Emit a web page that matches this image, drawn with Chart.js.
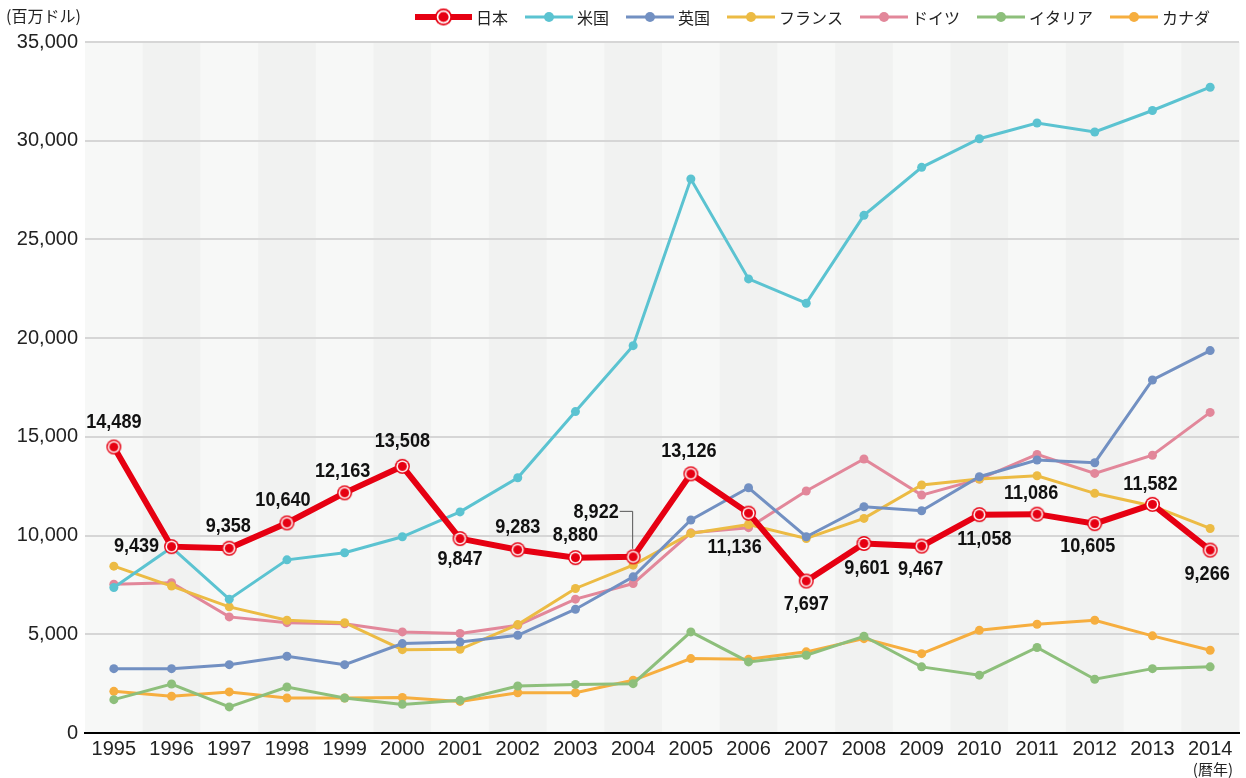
<!DOCTYPE html>
<html lang="ja">
<head>
<meta charset="utf-8">
<title>chart</title>
<script src="https://cdn.jsdelivr.net/npm/chart.js@4.4.1/dist/chart.umd.min.js"></script>
<style>
  html, body { margin: 0; padding: 0; background: #fff; }
  #wrap { width: 1246px; height: 778px; }
</style>
</head>
<body>
<div id="wrap"><canvas id="myChart" width="1246" height="778"></canvas></div>
<script>
// data (百万ドル)
const years = ['1995', '1996', '1997', '1998', '1999', '2000', '2001', '2002', '2003', '2004',
    '2005', '2006', '2007', '2008', '2009', '2010', '2011', '2012', '2013', '2014'];
const japan = [14489, 9439, 9358, 10640, 12163, 13508, 9847, 9283, 8880, 8922,
    13126, 11136, 7697, 9601, 9467, 11058, 11086, 10605, 11582, 9266];
const usa = [7370, 9400, 6780, 8770, 9130, 9940, 11200, 12930, 16280, 19620,
    28060, 23000, 21770, 26220, 28650, 30100, 30900, 30440, 31530, 32710];
const uk = [3260, 3260, 3460, 3890, 3460, 4530, 4610, 4950, 6270, 7910,
    10790, 12420, 9940, 11460, 11260, 12980, 13830, 13690, 17880, 19370];
const france = [8450, 7440, 6390, 5710, 5590, 4220, 4240, 5490, 7320, 8500,
    10110, 10560, 9850, 10870, 12560, 12860, 13030, 12140, 11500, 10360];
const germany = [7540, 7610, 5880, 5590, 5530, 5120, 5040, 5460, 6780, 7570,
    10140, 10400, 12260, 13880, 12050, 12860, 14110, 13150, 14070, 16240];
const italy = [1690, 2480, 1320, 2330, 1770, 1450, 1660, 2380, 2460, 2500,
    5120, 3600, 3940, 4900, 3350, 2930, 4330, 2720, 3260, 3350];
const canada = [2110, 1860, 2080, 1770, 1770, 1800, 1600, 2040, 2040, 2670,
    3770, 3730, 4110, 4780, 4020, 5200, 5510, 5710, 4920, 4190];
const yTicks = [0, 5000, 10000, 15000, 20000, 25000, 30000, 35000];

// where each 日本 label sits relative to its point
const labelOffsets = [[0, -25], [-35, 0], [-1, -22], [-4, -23], [-2, -22], [0, -25], [0, 21],
    [0, -23], [0, -22], [-37, -45], [-2, -23], [-14, 34], [0, 23], [3, 25], [-1, 23],
    [5, 25], [-6, -21], [-7, 23], [-2, -20], [-3, 24]];

const RED = '#e60012';
const SANS = '"Liberation Sans", Arial, sans-serif';
const JP = '"Noto Sans CJK JP", "Noto Sans", sans-serif';

function ringMarker(r) {
    const c = document.createElement('canvas');
    const s = Math.ceil(r * 2 + 2);
    c.width = s; c.height = s;
    const g = c.getContext('2d');
    const m = s / 2;
    g.fillStyle = RED;
    g.beginPath(); g.arc(m, m, r, 0, Math.PI * 2); g.fill();
    g.fillStyle = '#fff';
    g.beginPath(); g.arc(m, m, r * 0.8, 0, Math.PI * 2); g.fill();
    g.fillStyle = RED;
    g.beginPath(); g.arc(m, m, r * 0.6, 0, Math.PI * 2); g.fill();
    return c;
}
const japanMarker = ringMarker(7.5);
const japanLegendMarker = ringMarker(8.5);

function series(label, data, color) {
    return {
        label: label,
        data: data,
        borderColor: color,
        backgroundColor: color,
        borderWidth: 3,
        pointRadius: 4.5,
        pointHoverRadius: 4.5,
        pointBorderWidth: 0,
        tension: 0
    };
}

const bands = {
    id: 'bands',
    beforeDraw(chart) {
        const { ctx, chartArea, scales } = chart;
        const x = scales.x;
        const w = (chartArea.right - chartArea.left) / years.length;
        ctx.save();
        ctx.fillStyle = '#fff';
        ctx.fillRect(0, 0, chart.width, chart.height);
        years.forEach((y, i) => {
            ctx.fillStyle = i % 2 === 0 ? '#f7f8f7' : '#f1f2f1';
            ctx.fillRect(x.getPixelForValue(i) - w / 2, chartArea.top, w + 0.5, chartArea.bottom - chartArea.top);
        });
        ctx.restore();
    }
};

const extras = {
    id: 'extras',
    afterDatasetsDraw(chart) {
        const ctx = chart.ctx;
        const meta = chart.getDatasetMeta(0);
        const squeeze = 0.86;
        ctx.save();
        ctx.font = 'bold 21px ' + SANS;
        ctx.fillStyle = '#111';
        ctx.textBaseline = 'middle';
        ctx.textAlign = 'center';
        meta.data.forEach((pt, i) => {
            const [dx, dy] = labelOffsets[i];
            const txt = japan[i].toLocaleString('en-US');
            const tx = pt.x + dx;
            const ty = pt.y + dy;
            ctx.save();
            ctx.translate(tx, ty);
            ctx.scale(squeeze, 1);
            ctx.fillText(txt, 0, 0);
            ctx.restore();
            if (i === 9) {
                // leader line for 2004
                const half = ctx.measureText(txt).width * squeeze / 2;
                ctx.strokeStyle = '#555';
                ctx.lineWidth = 1;
                ctx.beginPath();
                ctx.moveTo(tx + half + 1, ty - 0.5);
                ctx.lineTo(pt.x - 0.5, ty - 0.5);
                ctx.lineTo(pt.x - 0.5, pt.y - 8);
                ctx.stroke();
            }
        });
        ctx.restore();
    },
    afterDraw(chart) {
        const ctx = chart.ctx;
        ctx.save();
        ctx.fillStyle = '#222';
        ctx.textBaseline = 'middle';
        ctx.font = '16px ' + JP;
        ctx.textAlign = 'left';
        ctx.fillText('(百万ドル)', 6, 16);
        ctx.font = '15px ' + JP;
        ctx.textAlign = 'right';
        ctx.fillText('(暦年)', 1233, 769);

        // legend
        let x = 415;
        const y = 17;
        ctx.font = '16px ' + JP;
        ctx.textAlign = 'left';
        chart.data.datasets.forEach((ds, i) => {
            const len = i === 0 ? 57 : 48;
            ctx.strokeStyle = ds.borderColor;
            ctx.lineWidth = i === 0 ? 6 : 3;
            ctx.beginPath();
            ctx.moveTo(x, y);
            ctx.lineTo(x + len, y);
            ctx.stroke();
            if (i === 0) {
                ctx.drawImage(japanLegendMarker, x + len / 2 - japanLegendMarker.width / 2, y - japanLegendMarker.height / 2);
            } else {
                ctx.fillStyle = ds.borderColor;
                ctx.beginPath();
                ctx.arc(x + len / 2, y, 5, 0, Math.PI * 2);
                ctx.fill();
            }
            x += len + 4;
            ctx.fillStyle = '#222';
            ctx.fillText(ds.label, x, y + 1);
            x += ctx.measureText(ds.label).width + 17;
        });
        ctx.restore();
    }
};

const japanSet = series('日本', japan, RED);
japanSet.borderWidth = 6;
japanSet.pointStyle = japanMarker;

const ctx = document.getElementById('myChart').getContext('2d');
const myChart = new Chart(ctx, {
    type: 'line',
    data: {
        labels: years,
        datasets: [
            japanSet,
            series('米国', usa, '#5bc3d1'),
            series('英国', uk, '#7290c2'),
            series('フランス', france, '#ecbb44'),
            series('ドイツ', germany, '#e2879a'),
            series('イタリア', italy, '#8dbf7b'),
            series('カナダ', canada, '#f6ae3f')
        ]
    },
    options: {
        responsive: false,
        animation: false,
        devicePixelRatio: 1,
        layout: { padding: { top: 42, right: 7, bottom: 13, left: 0 } },
        plugins: {
            legend: { display: false },
            tooltip: { enabled: false }
        },
        scales: {
            x: {
                offset: true,
                grid: { display: false, drawTicks: false },
                border: { color: '#000', width: 2 },
                ticks: {
                    color: '#222',
                    padding: 4,
                    maxRotation: 0,
                    font: { family: SANS, size: 20 }
                }
            },
            y: {
                min: 0,
                max: 35000,
                afterBuildTicks(scale) {
                    scale.ticks = yTicks.map(v => ({ value: v }));
                },
                afterFit(scale) {
                    scale.width = 85;
                },
                border: { display: false },
                grid: { color: '#d6d6d6', lineWidth: 2, drawTicks: false },
                ticks: {
                    color: '#222',
                    padding: 7,
                    font: { family: SANS, size: 20 },
                    callback: v => v.toLocaleString('en-US')
                }
            }
        }
    },
    plugins: [bands, extras]
});
</script>
</body>
</html>
